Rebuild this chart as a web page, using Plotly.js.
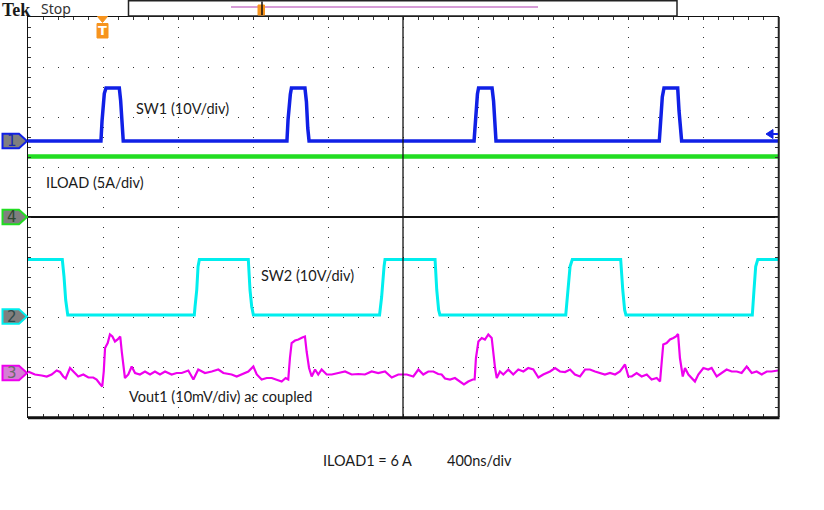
<!DOCTYPE html>
<html><head><meta charset="utf-8">
<script src="https://cdn.plot.ly/plotly-3.0.1.min.js"></script>
<style>html,body{margin:0;padding:0;background:#fff}#chart{width:824px;height:510px}</style>
</head><body><div id="chart"></div>
<script>
// ---- data read from the scope capture (time in ns, 400 ns/div) ----
const sw1TimeNs = [0, 389, 395, 407, 416, 487, 494, 501, 508, 1381, 1387, 1399, 1405, 1477, 1485, 1492, 1499, 2379, 2385, 2397, 2403, 2475, 2483, 2490, 2496, 3367, 3376, 3383, 3392, 3465, 3472, 3479, 3486, 4000];
const sw1Volts = [0, 0, 4.1, 9.5, 10.6, 10.6, 8.1, 2.8, 0, 0, 4.3, 9.3, 10.6, 10.6, 7.8, 2.6, 0, 0, 4.0, 9.4, 10.6, 10.6, 8.0, 2.7, 0, 0, 6.1, 8.8, 10.6, 10.6, 6.1, 2.1, 0, 0];

const iloadTimeNs = [0, 1000, 2000, 3000, 4000];
const iloadAmps = [6.06, 6.06, 6.06, 6.06, 6.06];

const sw2TimeNs = [0, 183, 192, 201, 212, 887, 891, 900, 907, 914, 1175, 1184, 1193, 1202, 1875, 1886, 1899, 1904, 2171, 2180, 2190, 2197, 2868, 2878, 2891, 2903, 3161, 3172, 3182, 3189, 3863, 3872, 3881, 3892, 4000];
const sw2Volts = [11.4, 11.4, 8.0, 3.3, 0.3, 0.3, 2.0, 5.3, 10.0, 11.4, 11.4, 5.3, 2.0, 0.3, 0.3, 3.9, 10.0, 11.4, 11.4, 5.3, 1.3, 0.3, 0.3, 5.3, 10.0, 11.4, 11.4, 5.3, 1.3, 0.3, 0.3, 5.3, 10.0, 11.4, 11.4];

const voutTimeNs = [0,37,73,100,126,153,171,188,201,224,242,268,295,322,348,366,384,396,404,411,425,437,450,464,478,492,500,508,517,535,553,571,597,624,651,677,704,731,766,793,820,855,882,908,944,980,1015,1042,1086,1113,1140,1175,1202,1220,1246,1273,1300,1326,1353,1374,1388,1397,1406,1424,1442,1463,1477,1486,1499,1513,1531,1548,1566,1593,1620,1655,1691,1726,1762,1797,1833,1868,1904,1940,1975,2020,2055,2082,2108,2135,2162,2188,2206,2224,2251,2277,2304,2325,2348,2372,2382,2389,2402,2420,2437,2455,2473,2482,2491,2500,2517,2535,2562,2588,2615,2642,2668,2695,2722,2748,2784,2811,2837,2864,2891,2917,2944,2971,2997,3024,3051,3077,3104,3131,3157,3184,3202,3220,3246,3273,3300,3326,3353,3371,3380,3388,3406,3424,3442,3456,3467,3477,3492,3504,3522,3540,3557,3575,3602,3628,3646,3673,3700,3726,3753,3780,3806,3833,3860,3886,3913,3940,3966,4000];
const voutMilliVolts = [0.3,-0.3,-0.5,-0.7,-0.3,0.5,0.2,-0.7,-1.1,1.0,0.3,-0.7,-0.3,-0.9,-0.9,-1.3,-2.2,-2.7,0.3,5.0,6.0,7.7,7.3,6.3,6.7,7.3,4.3,1.7,-1.0,-0.3,1.3,0,-0.3,0.3,-0.3,0.3,-0.3,0.3,-0.3,0,0,0.5,-1.3,0.7,0,0.3,0.7,0,-0.3,-0.7,-0.3,0.3,1.3,-0.3,-1.3,-1.0,-1.0,-1.3,-1.7,-1.0,-1.3,3.0,6.0,6.5,6.7,7.1,7.3,4.3,1.0,-0.7,0.7,-0.3,0.7,-0.3,-0.3,0,0.3,-0.3,-0.2,-0.3,0.3,0,0.3,-0.9,-0.3,-0.3,-0.7,0.7,-0.3,0.3,0.3,-0.2,-0.3,-1.1,-1.3,-1.0,-1.8,-2.3,-1.7,-1.3,-1.3,3.0,6.3,7.0,6.7,7.7,7.0,3.7,1.0,-1.0,0.3,-0.3,0.7,-0.3,0.7,0.3,1.0,0.7,-0.9,-0.3,0.3,1.0,0.3,0.2,0.7,-0.3,-0.7,0.7,0.7,0.3,0,-0.3,0,-0.3,0.3,1.7,-0.7,-0.7,0,-0.7,-0.3,-1.3,-1.0,-1.7,2.3,5.7,6.0,6.7,7.0,7.3,7.8,3.0,-0.7,1.0,-0.3,-1.0,-1.7,-0.3,1.0,0.7,1.0,-0.7,0,0.7,0.3,0.3,0,1.3,0,0.3,-0.3,0.3,0.3,0.5];

const traceLabels = ['SW1 (10V/div)', 'ILOAD (5A/div)', 'SW2 (10V/div)', 'Vout1 (10mV/div) ac coupled'];
const footerLabels = ['ILOAD1 = 6 A', '400ns/div'];
const channelNumbers = ['1', '4', '2', '3'];

// ---- scope channel settings (vertical position in divisions, units per division) ----
const CH = {
  sw1:   {pos: 1.52,  perDiv: 10, color: '#1020e6', num: channelNumbers[0], fill: '#7f7f7f', txt: '#1a2ab0'},
  iload: {pos: 0.0,   perDiv: 5,  color: '#22dd22', num: channelNumbers[1], fill: '#7f7f7f', txt: '#2f4a2f'},
  sw2:   {pos: -1.99, perDiv: 10, color: '#00eeee', num: channelNumbers[2], fill: '#7f7f7f', txt: '#2f4a4a'},
  vout:  {pos: -3.12, perDiv: 10, color: '#ee00ee', num: channelNumbers[3], fill: '#d47fd4', txt: '#6a6a6a'}
};
const toDiv = (vals, c) => vals.map(v => c.pos + v / c.perDiv);

const traces = [
  {x: sw1TimeNs, y: toDiv(sw1Volts, CH.sw1), mode: 'lines', line: {color: CH.sw1.color, width: 3.5}, hoverinfo: 'skip'},
  {x: iloadTimeNs, y: toDiv(iloadAmps, CH.iload), mode: 'lines', line: {color: CH.iload.color, width: 4.5}, hoverinfo: 'skip'},
  {x: sw2TimeNs, y: toDiv(sw2Volts, CH.sw2), mode: 'lines', line: {color: CH.sw2.color, width: 3}, hoverinfo: 'skip'},
  {x: voutTimeNs, y: toDiv(voutMilliVolts, CH.vout), mode: 'lines', line: {color: CH.vout.color, width: 2.2}, hoverinfo: 'skip'}
];

// plot area: 750 x 400 px, left 28, top 17
const px = v => (v - 28) / 750;      // page x -> paper
const py = v => (417 - v) / 400;     // page y -> paper

const shapes = [];
const annotations = [];

// center vertical line
shapes.push({type: 'line', xref: 'paper', yref: 'paper', x0: 0.5, x1: 0.5, y0: 0, y1: 1, line: {color: '#111', width: 1.3}, layer: 'above'});
// thicker bottom & right borders
shapes.push({type: 'line', xref: 'paper', yref: 'paper', x0: 0, x1: 1.002, y0: -0.002, y1: -0.002, line: {color: '#111', width: 3}});
shapes.push({type: 'line', xref: 'paper', yref: 'paper', x0: 1.001, x1: 1.001, y0: 0, y1: 1, line: {color: '#222', width: 2}});

// channel markers on the left
[CH.sw1, CH.iload, CH.sw2, CH.vout].forEach(c => {
  const h = 0.145;
  shapes.push({type: 'path', xref: 'paper', yref: 'y',
    path: `M ${px(2.5)},${c.pos + h} L ${px(19)},${c.pos + h} L ${px(27)},${c.pos} L ${px(19)},${c.pos - h} L ${px(2.5)},${c.pos - h} Z`,
    fillcolor: c.fill, line: {color: c.color, width: 2}});
  annotations.push({xref: 'paper', yref: 'y', x: px(12), y: c.pos, text: c.num, showarrow: false,
    font: {family: 'DejaVu Sans', size: 15, color: c.txt}, xanchor: 'center', yanchor: 'middle', borderpad: 0});
});

// trigger level arrow (right, blue)
shapes.push({type: 'path', xref: 'paper', yref: 'paper',
  path: `M ${px(766)},${py(134)} L ${px(773)},${py(129.5)} L ${px(773)},${py(138.5)} Z`,
  fillcolor: CH.sw1.color, line: {color: CH.sw1.color, width: 1}});
shapes.push({type: 'line', xref: 'paper', yref: 'paper', x0: px(772), x1: px(778), y0: py(134), y1: py(134), line: {color: CH.sw1.color, width: 2}});

// trigger position marker "T" (orange)
shapes.push({type: 'path', xref: 'paper', yref: 'paper',
  path: `M ${px(97.5)},${py(16.5)} L ${px(107.5)},${py(16.5)} L ${px(102.5)},${py(22.5)} Z`,
  fillcolor: '#f7941d', line: {color: '#f7941d', width: 1}});
shapes.push({type: 'rect', xref: 'paper', yref: 'paper', x0: px(97), x1: px(108), y0: py(38), y1: py(23.5),
  fillcolor: '#f7941d', line: {color: '#f7941d', width: 1}});
annotations.push({xref: 'paper', yref: 'paper', x: px(102.5), y: py(30.5), text: '<b>T</b>', showarrow: false,
  font: {family: 'DejaVu Sans', size: 13, color: '#ffffff'}, xanchor: 'center', yanchor: 'middle'});

// record-view box at top
shapes.push({type: 'rect', xref: 'paper', yref: 'paper', x0: px(128.5), x1: px(677), y0: py(16), y1: py(0.8),
  fillcolor: '#ffffff', line: {color: '#222', width: 1.5}});
shapes.push({type: 'line', xref: 'paper', yref: 'paper', x0: px(231), x1: px(538), y0: py(7), y1: py(7), line: {color: '#b03ab0', width: 1.2}});
shapes.push({type: 'rect', xref: 'paper', yref: 'paper', x0: px(258), x1: px(264.5), y0: py(15), y1: py(5),
  fillcolor: '#f7941d', line: {color: '#f7941d', width: 1}});
shapes.push({type: 'line', xref: 'paper', yref: 'paper', x0: px(262), x1: px(262), y0: py(15), y1: py(1.5), line: {color: '#111', width: 1.5}});

// header text
annotations.push({xref: 'paper', yref: 'paper', x: px(1), y: py(10), text: '<b>Tek</b>', showarrow: false,
  font: {family: 'Liberation Serif', size: 18, color: '#1a1a1a'}, xanchor: 'left', yanchor: 'middle', borderpad: 0});
annotations.push({xref: 'paper', yref: 'paper', x: px(40), y: py(9), text: 'Stop', showarrow: false,
  font: {family: 'Noto Sans', size: 14, color: '#333'}, xanchor: 'left', yanchor: 'middle', borderpad: 0});

// trace labels
const labelPos = [[136, 108], [46, 182], [261, 275], [129, 396]];
traceLabels.forEach((t, i) => {
  annotations.push({xref: 'paper', yref: 'paper', x: px(labelPos[i][0] - 2), y: py(labelPos[i][1]), text: t, showarrow: false,
    font: {family: 'Lato', size: 14.5, color: '#1a1a1a'}, xanchor: 'left', yanchor: 'middle'});
});
const footPos = [[323, 460], [447, 460]];
footerLabels.forEach((t, i) => {
  annotations.push({xref: 'paper', yref: 'paper', x: px(footPos[i][0] - 2), y: py(footPos[i][1]), text: t, showarrow: false,
    font: {family: 'Lato', size: 14.5, color: '#1a1a1a'}, xanchor: 'left', yanchor: 'middle'});
});

const tickCol = '#333';
const layout = {
  width: 824, height: 510,
  margin: {l: 28, r: 46, t: 17, b: 93},
  paper_bgcolor: '#ffffff', plot_bgcolor: '#ffffff',
  showlegend: false,
  xaxis: {range: [0, 4000], tick0: 0, dtick: 400, showgrid: true, gridcolor: '#333', gridwidth: 1, griddash: '1px,9px',
    showline: true, linecolor: '#111', linewidth: 1, mirror: 'allticks', ticks: 'inside', ticklen: 3, tickcolor: tickCol,
    showticklabels: false, zeroline: false, fixedrange: true,
    minor: {tick0: 0, dtick: 80, ticks: 'inside', ticklen: 3, tickcolor: tickCol, showgrid: false}},
  yaxis: {range: [-4, 4], tick0: 0, dtick: 1, showgrid: true, gridcolor: '#333', gridwidth: 1, griddash: '1px,14px',
    zeroline: true, zerolinecolor: '#111', zerolinewidth: 1.3,
    showline: true, linecolor: '#111', linewidth: 1, mirror: 'allticks', ticks: 'inside', ticklen: 3, tickcolor: tickCol,
    showticklabels: false, fixedrange: true,
    minor: {tick0: 0, dtick: 0.2, ticks: 'inside', ticklen: 3, tickcolor: tickCol, showgrid: false}},
  xaxis2: {overlaying: 'x', anchor: 'free', position: 0.5, range: [0, 4000], tick0: 0, dtick: 80, ticks: 'outside', ticklen: 3,
    tickcolor: tickCol, showline: false, showgrid: false, zeroline: false, showticklabels: false, fixedrange: true},
  xaxis3: {overlaying: 'x', anchor: 'free', position: 0.5, range: [0, 4000], tick0: 0, dtick: 80, ticks: 'inside', ticklen: 3,
    tickcolor: tickCol, showline: false, showgrid: false, zeroline: false, showticklabels: false, fixedrange: true},
  yaxis2: {overlaying: 'y', anchor: 'free', position: 0.5, range: [-4, 4], tick0: 0, dtick: 0.2, ticks: 'outside', ticklen: 3,
    tickcolor: tickCol, showline: false, showgrid: false, zeroline: false, showticklabels: false, fixedrange: true},
  yaxis3: {overlaying: 'y', anchor: 'free', position: 0.5, range: [-4, 4], tick0: 0, dtick: 0.2, ticks: 'inside', ticklen: 3,
    tickcolor: tickCol, showline: false, showgrid: false, zeroline: false, showticklabels: false, fixedrange: true},
  shapes: shapes,
  annotations: annotations
};

Plotly.newPlot('chart', traces, layout, {staticPlot: true, displayModeBar: false});
</script>
</body></html>
